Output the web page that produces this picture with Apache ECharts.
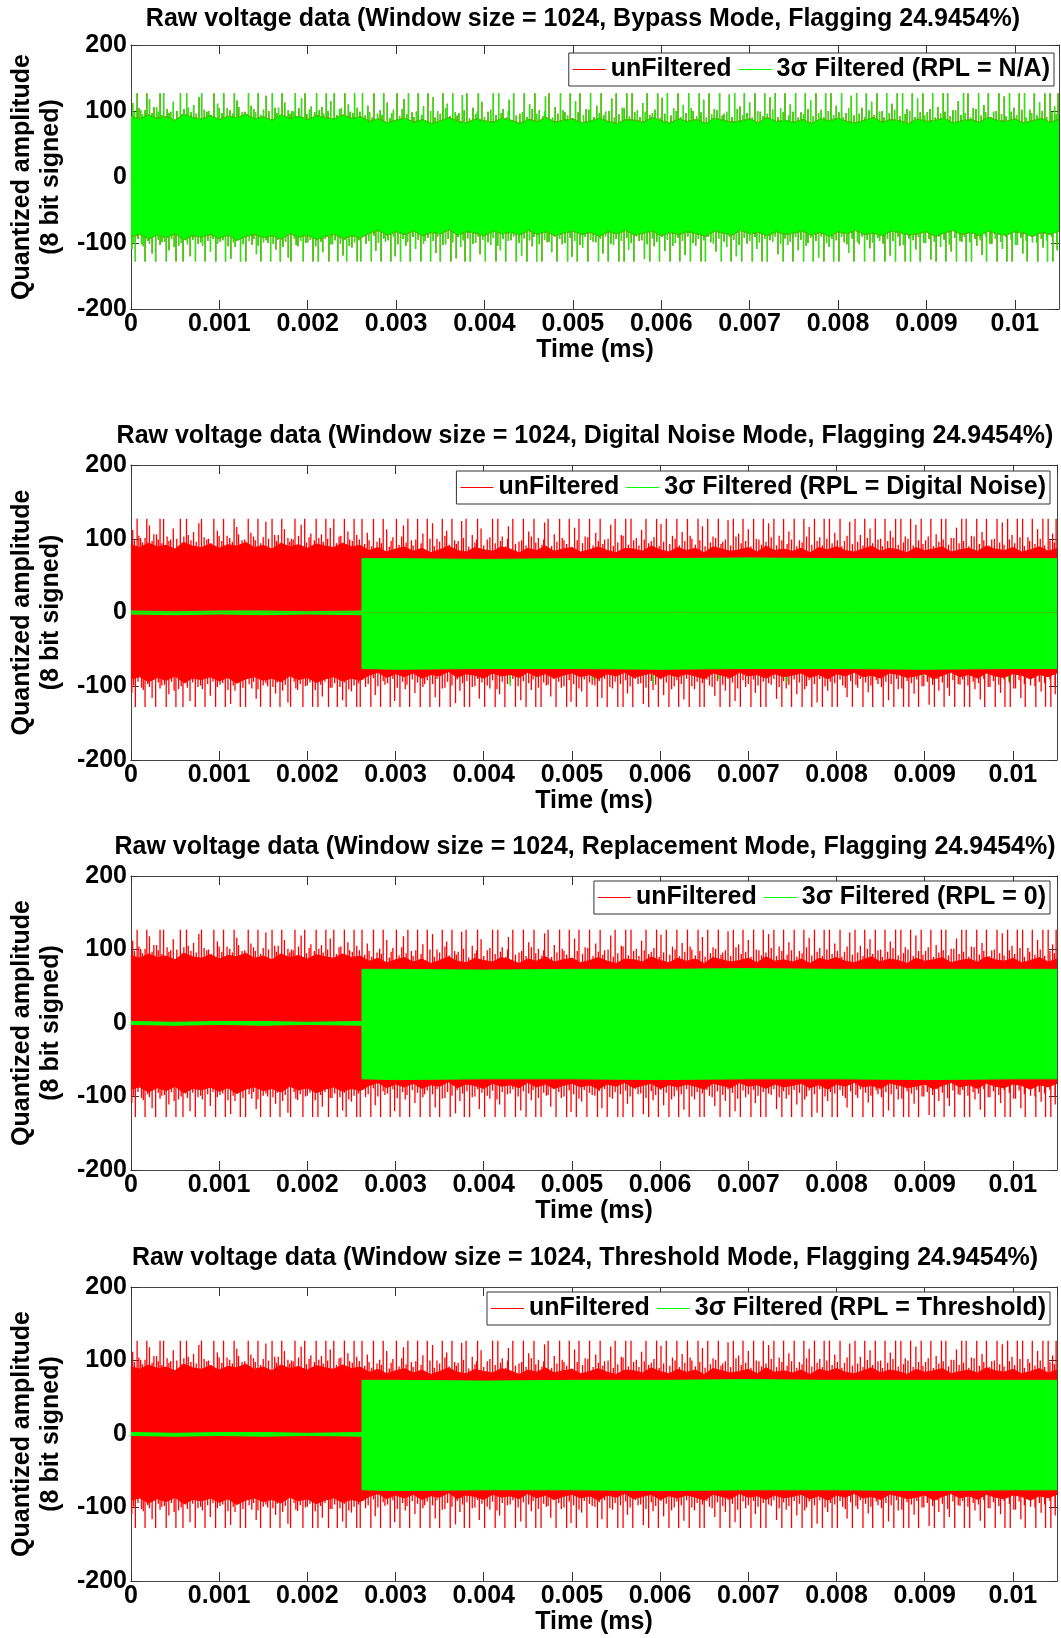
<!DOCTYPE html>
<html>
<head>
<meta charset="utf-8">
<title>Raw voltage data</title>
<script src="https://cdn.jsdelivr.net/npm/echarts@6/dist/echarts.min.js"></script>
<style>
html, body { margin: 0; padding: 0; background: #fff; }
#chart { width: 1061px; height: 1638px; }
</style>
</head>
<body>
<div id="chart"></div>
<script>
// time base: core envelope sampled every coreStep ms, spike positions in units of spikeUnit ms
var coreStep = 0.0001;
var spikeUnit = 0.00001;
var timeMax = 0.0105;
var yTicks = [-200, -100, 0, 100, 200];

// raw (unfiltered) signal: solid core envelope
var rawCoreTop = [
  92, 88, 94, 89, 91, 86, 95, 90, 88, 93,
  87, 92, 90, 95, 88, 91, 86, 94, 89, 92,
  87, 93, 90, 88, 94, 89, 91,
  84, 88, 82, 86, 89, 83, 87, 81, 85, 90,
  84, 82, 88, 85, 83, 89, 86, 81, 87, 84,
  90, 83, 86, 88, 82, 85, 89, 84, 81, 87,
  86, 83, 90, 85, 82, 88, 84, 87, 81, 89,
  86, 83, 85, 88, 82, 90, 84, 86, 83, 87,
  81, 88, 85, 89, 84, 82, 86, 90, 83, 87,
  85, 81, 88, 84, 86, 89, 82, 85, 87, 83,
  90, 86, 84, 88, 82, 85, 89, 83, 87
];
var rawCoreBot = [
  -90, -87, -94, -88, -92, -86, -95, -89, -91, -87,
  -93, -88, -96, -90, -87, -92, -89, -94, -86, -91,
  -88, -95, -90, -87, -93, -89, -92,
  -85, -81, -88, -83, -87, -82, -89, -84, -86, -80,
  -88, -83, -85, -89, -82, -86, -84, -88, -81, -87,
  -83, -89, -85, -82, -87, -84, -90, -83, -86, -81,
  -88, -85, -82, -89, -84, -87, -83, -86, -90, -82,
  -85, -88, -81, -86, -84, -89, -83, -87, -85, -82,
  -88, -84, -90, -83, -86, -81, -87, -85, -89, -82,
  -84, -88, -86, -83, -90, -85, -81, -87, -84, -89,
  -82, -86, -88, -83, -85, -90, -84, -87, -82
];
// raw signal: tall spikes above / below the core [position, peak]
var rawSpikeUp = [
  [2,112],[7,127],[11,101],[18,127],[21,118],[29,106],[33,127],[37,127],[45,99],[48,114],
  [56,127],[60,103],[63,127],[71,109],[77,121],[80,127],[88,100],[94,127],[98,111],[105,127],
  [109,104],[117,127],[120,116],[126,98],[133,127],[136,108],[144,127],[150,102],[153,123],[160,127],
  [167,105],[171,127],[174,113],[182,100],[186,127],[193,119],[197,127],[204,107],[210,127],[213,101],
  [221,127],[226,115],[230,127],[238,104],[242,127],[246,110],[253,127],[259,99],[262,127],
  [268,108],[275,127],[279,96],[286,127],[290,113],[297,102],[301,127],[309,118],[314,127],[318,98],
  [325,127],[331,107],[336,127],[342,121],[347,100],[353,127],[358,111],[364,127],[371,97],[375,124],
  [380,127],[387,105],[393,127],[397,114],[404,99],[410,127],[416,127],[421,103],[428,117],[433,127],
  [440,96],[445,127],[451,110],[457,127],[462,101],[469,122],[473,127],[480,106],[486,127],[491,98],
  [497,127],[503,115],[508,127],[515,103],[520,127],[527,108],[532,127],[537,99],[544,119],[549,127],
  [556,105],[561,127],[567,127],[573,101],[579,112],[584,127],[590,97],[596,127],[601,120],[607,127],
  [614,104],[619,127],[625,109],[631,127],[636,100],[643,127],[648,117],[654,127],[660,103],[666,127],
  [671,96],[677,125],[683,127],[689,107],[694,127],[700,113],[706,127],[712,99],[717,127],[723,121],
  [729,127],[735,104],[740,127],[746,110],[752,127],[758,98],[763,127],[769,116],[775,127],[781,102],
  [786,127],[792,127],[798,108],[804,127],[809,97],[815,123],[821,127],[827,105],[832,127],[838,114],
  [844,127],[850,100],[855,127],[861,111],[867,127],[873,127],[878,103],[884,127],[890,119],[896,127],
  [901,98],[907,127],[913,106],[919,127],[924,127],[930,101],[936,115],[942,127],[947,127],[953,104],
  [959,127],[965,109],[970,127],[976,99],[982,127],[988,122],[994,127],[999,105],[1005,127],[1011,127],
  [1017,102],[1022,127],[1028,113],[1034,127],[1040,127],[1045,107],[1049,127]
];
var rawSpikeDn = [
  [1,-109],[5,-128],[12,-102],[16,-128],[24,-116],[28,-128],[35,-99],[40,-128],[43,-111],[51,-128],
  [54,-104],[59,-128],[67,-120],[73,-128],[76,-101],[84,-128],[90,-113],[96,-128],[101,-98],[107,-128],
  [113,-124],[118,-106],[124,-128],[130,-128],[137,-103],[142,-117],[147,-128],[155,-100],[158,-128],[164,-110],
  [169,-128],[178,-122],[181,-128],[189,-105],[195,-128],[200,-99],[206,-128],[212,-128],[217,-114],[224,-128],
  [228,-102],[234,-128],[240,-119],[244,-128],[250,-107],[256,-128],[260,-128],
  [266,-101],[272,-128],[277,-112],[283,-128],[288,-98],[294,-128],[299,-120],[305,-128],[311,-104],[316,-128],
  [322,-109],[328,-128],[333,-97],[339,-128],[345,-115],[350,-128],[356,-102],[362,-128],[368,-123],[373,-106],
  [378,-128],[384,-128],[390,-100],[395,-117],[401,-128],[407,-103],[413,-128],[418,-111],[424,-128],[430,-96],
  [436,-128],[442,-119],[448,-128],[454,-105],[459,-128],[465,-128],[471,-99],[476,-114],[482,-128],[488,-102],
  [494,-128],[499,-121],[505,-128],[511,-107],[517,-128],[523,-98],[529,-128],[534,-116],[540,-128],[546,-103],
  [552,-128],[558,-128],[563,-110],[569,-128],[575,-97],[581,-124],[587,-128],[592,-105],[598,-128],[604,-112],
  [610,-128],[616,-100],[621,-128],[627,-118],[633,-128],[639,-104],[645,-128],[650,-128],[656,-99],[662,-113],
  [668,-128],[674,-106],[679,-128],[685,-120],[691,-128],[697,-101],[703,-128],[708,-109],[714,-128],[720,-128],
  [726,-98],[732,-117],[738,-128],[743,-103],[749,-128],[755,-111],[761,-128],[766,-100],[772,-128],[778,-122],
  [784,-128],[790,-106],[795,-128],[801,-128],[807,-99],[812,-115],[818,-128],[824,-102],[830,-128],[836,-108],
  [841,-128],[847,-97],[853,-128],[859,-119],[865,-128],[870,-104],[876,-128],[882,-128],[888,-110],[893,-128],
  [899,-100],[905,-125],[911,-128],[916,-106],[922,-128],[928,-113],[934,-128],[940,-98],[945,-128],[951,-128],
  [957,-104],[963,-118],[968,-128],[974,-101],[980,-128],[986,-109],[991,-128],[997,-128],[1003,-103],[1009,-116],
  [1014,-128],[1020,-99],[1026,-128],[1032,-107],[1037,-128],[1043,-128],[1048,-111]
];
// raw signal: short dense spikes just outside the core [position, peak]
var rawFuzzUp = [
  [4,98],[9,104],[13,95],[16,101],[24,97],[26,106],[31,99],[35,94],[41,103],[43,97],
  [52,100],[58,95],[65,105],[68,98],[74,96],[83,102],[86,99],[91,94],[100,104],[103,97],
  [112,101],[115,96],[122,106],[129,99],[131,95],[139,103],[141,98],[147,94],[156,100],[163,105],
  [165,97],[178,101],[180,96],[184,99],[190,104],[199,95],[202,102],[208,98],[216,106],[218,96],
  [223,100],[233,94],[236,103],[248,99],[251,97],[256,105],
  [265,93],[270,98],[273,90],[282,101],[284,94],[293,89],[295,97],[304,92],[307,103],[312,95],
  [320,91],[323,99],[329,94],[339,100],[344,90],[350,96],[356,104],[361,92],[367,98],[369,93],
  [377,101],[383,89],[390,95],[392,99],[400,91],[407,102],[413,94],[419,97],[425,90],[427,100],
  [436,93],[443,98],[448,91],[454,103],[459,95],[466,92],[468,99],[477,90],[483,96],[489,101],
  [494,93],[500,89],[506,98],[512,94],[518,102],[524,91],[530,97],[535,93],[541,100],[547,90],
  [552,95],[558,104],[564,92],[570,98],[576,91],[582,99],[587,94],[593,102],[599,90],[604,96],
  [611,93],[617,100],[622,91],[628,97],[634,104],[640,92],[645,98],[651,90],[657,95],[663,101],
  [669,93],[674,99],[680,91],[686,103],[692,94],[697,97],[703,90],[709,100],[715,92],[720,96],
  [726,102],[732,91],[738,98],[744,93],[749,99],[755,90],[761,95],[766,103],[772,92],[778,97],
  [784,91],[789,100],[795,94],[801,98],[806,90],[812,104],[818,93],[824,96],[830,91],[835,101],
  [841,94],[847,99],[852,90],[858,97],[864,102],[870,92],[876,95],[881,100],[887,91],[893,98],
  [898,93],[904,103],[910,90],[916,96],[921,99],[927,92],[933,101],[939,94],[944,97],[950,90],
  [956,103],[962,93],[967,98],[973,91],[979,100],[985,95],[990,92],[996,99],[1002,94],[1008,102],
  [1013,90],[1019,97],[1025,93],[1031,100],[1036,91],[1042,98],[1047,95]
];
var rawFuzzDn = [
  [3,-99],[8,-94],[14,-105],[19,-97],[21,-101],[31,-95],[33,-103],[38,-98],[46,-94],[49,-106],
  [57,-100],[62,-96],[64,-102],[70,-95],[79,-99],[81,-104],[87,-97],[93,-94],[98,-101],[104,-96],
  [110,-105],[116,-99],[121,-95],[127,-102],[134,-97],[139,-94],[144,-104],[150,-99],[153,-96],[161,-101],
  [166,-95],[172,-106],[175,-98],[185,-94],[187,-103],[192,-97],[198,-100],[203,-95],[209,-105],[215,-98],
  [220,-94],[226,-102],[231,-96],[237,-101],[242,-95],[247,-104],[253,-99],[258,-96],
  [263,-91],[269,-97],[275,-89],[280,-100],[286,-93],[291,-96],[297,-90],[302,-102],[308,-94],[313,-98],
  [319,-91],[325,-95],[331,-101],[336,-92],[342,-97],[347,-90],[353,-103],[359,-94],[364,-99],[370,-91],
  [376,-96],[381,-93],[387,-101],[393,-90],[398,-95],[404,-99],[410,-92],[415,-104],[421,-94],[427,-97],
  [433,-90],[439,-100],[445,-93],[451,-96],[456,-91],[462,-102],[468,-95],[473,-98],[479,-90],[485,-94],
  [491,-100],[497,-92],[502,-97],[508,-103],[514,-91],[520,-95],[526,-99],[531,-93],[537,-90],[543,-101],
  [549,-94],[555,-97],[561,-92],[566,-100],[572,-90],[578,-96],[584,-102],[590,-93],[595,-98],[601,-91],
  [607,-95],[613,-104],[619,-92],[624,-97],[630,-90],[636,-100],[642,-94],[648,-96],[653,-91],[659,-101],
  [665,-93],[671,-98],[677,-90],[682,-95],[688,-103],[694,-92],[700,-97],[706,-91],[711,-99],[717,-94],
  [723,-96],[729,-90],[735,-101],[740,-93],[746,-98],[752,-91],[758,-95],[764,-104],[769,-92],[775,-97],
  [781,-90],[787,-100],[793,-94],[798,-96],[804,-91],[810,-102],[816,-93],[822,-98],[827,-90],[833,-95],
  [839,-99],[845,-92],[851,-101],[856,-94],[862,-97],[868,-90],[874,-103],[880,-93],[885,-96],[891,-91],
  [897,-100],[903,-94],[909,-98],[914,-90],[920,-95],[926,-102],[932,-92],[938,-97],[943,-91],[949,-99],
  [955,-94],[961,-96],[967,-90],[972,-101],[978,-93],[984,-98],[990,-91],[996,-95],[1001,-103],[1007,-92],
  [1013,-97],[1019,-90],[1025,-100],[1030,-94],[1036,-96],[1042,-91],[1048,-99]
];

// filtered signal (modes with replacement): ~0 in the flagged part, clipped band afterwards
var zeroTime = [0, 0.0005, 0.001, 0.0015, 0.002, 0.00262];
var zeroTop = [2, 1, 2, 2, 1, 2];
var zeroBot = [-2, -3, -2, -3, -2, -3];
var clipTime = [0.00262, 0.003, 0.004, 0.005, 0.006, 0.007, 0.008, 0.009, 0.01, 0.0105];
var clipTop = [73, 73, 72, 73, 73, 74, 73, 73, 73, 73];
var clipBot = [-76, -77, -76, -76, -77, -76, -76, -77, -76, -76];
// digital noise mode: a few filtered samples below the clipped band
var noiseSpikeDn = [[430,-100],[524,-92],[571,-88],[592,-97],[666,-90],[744,-95],[898,-86],[995,-93]];

var modes = ['Bypass Mode', 'Digital Noise Mode', 'Replacement Mode', 'Threshold Mode'];
var rplNames = ['N/A', 'Digital Noise', '0', 'Threshold'];
var flagging = '24.9454%';

var panels = [
  {left: 126, right: 2, top: 45, height: 264, titleX: 583, titleY: 19, legRight: 7, legTop: 53},
  {left: 123, right: 4, top: 465, height: 295, titleX: 585, titleY: 436, legRight: 11, legTop: 471},
  {left: 123, right: 4, top: 876, height: 294, titleX: 585, titleY: 847, legRight: 11, legTop: 881},
  {left: 123, right: 4, top: 1287, height: 294, titleX: 585, titleY: 1258, legRight: 11, legTop: 1292}
];

var RED = '#ff0000', GREEN = '#00ff00';
var FONT = '"Liberation Sans", Arial, sans-serif';

function pairs(times, vals) {
  return vals.map(function (v, i) { return [times[i], v]; });
}
function coreData(vals) {
  return vals.map(function (v, i) { return [i * coreStep, v]; });
}
function spikeData(list) {
  return list.map(function (s) { return [s[0] * spikeUnit, s[1]]; });
}
function renderSpike(params, api) {
  var a = api.coord([api.value(0), 0]);
  var b = api.coord([api.value(0), api.value(1)]);
  return {
    type: 'line',
    shape: {x1: a[0], y1: a[1], x2: b[0], y2: b[1]},
    style: {stroke: api.visual('color'), lineWidth: 1.3}
  };
}
function spikeSeries(name, g, color, list) {
  return {
    name: name, type: 'custom', xAxisIndex: 2 * g, yAxisIndex: 2 * g,
    renderItem: renderSpike, encode: {x: 0, y: 1},
    itemStyle: {color: color}, data: spikeData(list), silent: true
  };
}
function bandSeries(name, g, color, data) {
  return {
    name: name, type: 'line', xAxisIndex: 2 * g, yAxisIndex: 2 * g,
    data: data, symbol: 'none', silent: true,
    itemStyle: {color: color},
    lineStyle: {color: color, width: 1},
    areaStyle: {color: color, opacity: 1}
  };
}
function rawSeries(name, g, color) {
  return [
    spikeSeries(name, g, color, rawSpikeUp),
    spikeSeries(name, g, color, rawSpikeDn),
    spikeSeries(name, g, color, rawFuzzUp),
    spikeSeries(name, g, color, rawFuzzDn),
    bandSeries(name, g, color, coreData(rawCoreTop)),
    bandSeries(name, g, color, coreData(rawCoreBot))
  ];
}

var option = {
  animation: false,
  backgroundColor: '#fff',
  textStyle: {fontFamily: FONT},
  grid: [], xAxis: [], yAxis: [], legend: [], series: [], graphic: []
};

panels.forEach(function (p, g) {
  var filtName = '3\u03c3 Filtered (RPL = ' + rplNames[g] + ')';
  option.grid.push({left: p.left, right: p.right, top: p.top, height: p.height, containLabel: false});

  var tickStyle = {show: true, inside: true, length: 9, lineStyle: {color: '#333', width: 1}};
  var lineStyle = {show: true, onZero: false, lineStyle: {color: '#444', width: 1}};
  option.xAxis.push({
    gridIndex: g, type: 'value', min: 0, max: timeMax, interval: 0.001,
    position: 'bottom', axisLine: lineStyle, axisTick: tickStyle, splitLine: {show: false},
    axisLabel: {
      color: '#000', fontSize: 25, fontWeight: 'bold', fontFamily: FONT, margin: 3,
      showMaxLabel: false,
      formatter: function (v) { return v === 0 ? '0' : String(parseFloat(v.toFixed(4))); }
    },
    name: 'Time (ms)', nameLocation: 'middle', nameGap: 28,
    nameTextStyle: {color: '#000', fontSize: 25, fontWeight: 'bold', fontFamily: FONT}
  });
  option.xAxis.push({
    gridIndex: g, type: 'value', min: 0, max: timeMax, interval: 0.001,
    position: 'top', axisLine: lineStyle, axisTick: tickStyle,
    axisLabel: {show: false}, splitLine: {show: false}
  });
  option.yAxis.push({
    gridIndex: g, type: 'value', min: yTicks[0], max: yTicks[yTicks.length - 1], interval: 100,
    position: 'left', axisLine: lineStyle, axisTick: {show: true, inside: true, length: 8, lineStyle: {color: '#333'}},
    splitLine: {show: false},
    axisLabel: {color: '#000', fontSize: 25, fontWeight: 'bold', fontFamily: FONT, margin: 4},
    name: 'Quantized amplitude\n(8 bit signed)', nameLocation: 'middle', nameRotate: 90, nameGap: 56,
    nameTextStyle: {color: '#000', fontSize: 25, fontWeight: 'bold', fontFamily: FONT, lineHeight: 29}
  });
  option.yAxis.push({
    gridIndex: g, type: 'value', min: yTicks[0], max: yTicks[yTicks.length - 1], interval: 100,
    position: 'right', axisLine: lineStyle, axisTick: {show: true, inside: true, length: 8, lineStyle: {color: '#333'}},
    axisLabel: {show: false}, splitLine: {show: false}
  });

  // unfiltered (red) first, filtered (green) drawn on top
  option.series = option.series.concat(rawSeries('unFiltered', g, RED));

  if (g === 0) {
    // bypass: filtered output equals the raw signal
    option.series = option.series.concat(rawSeries(filtName, g, GREEN));
  } else {
    if (g === 1) option.series.push(spikeSeries(filtName, g, GREEN, noiseSpikeDn));
    option.series.push(bandSeries(filtName, g, GREEN, pairs(zeroTime, zeroTop).concat(pairs(clipTime, clipTop))));
    option.series.push(bandSeries(filtName, g, GREEN, pairs(zeroTime, zeroBot).concat(pairs(clipTime, clipBot))));
  }

  option.legend.push({
    data: [{name: 'unFiltered', itemStyle: {color: RED}}, {name: filtName, itemStyle: {color: GREEN}}],
    right: p.legRight, top: p.legTop, orient: 'horizontal',
    icon: 'rect', itemWidth: 33, itemHeight: 1, itemGap: 7,
    selectedMode: false,
    textStyle: {color: '#000', fontSize: 25, fontWeight: 'bold', fontFamily: FONT},
    borderColor: '#333', borderWidth: 1, borderRadius: 0,
    padding: [4, 4, 4, 4], backgroundColor: '#fff'
  });

  option.graphic.push({
    type: 'text', x: p.titleX, y: p.titleY, z: 100,
    style: {
      text: 'Raw voltage data (Window size = 1024, ' + modes[g] + ', Flagging ' + flagging + ')',
      fill: '#000', font: 'bold 25px ' + FONT,
      align: 'center', verticalAlign: 'middle', textAlign: 'center', textVerticalAlign: 'middle'
    }
  });
});

var chart = echarts.init(document.getElementById('chart'), null, {renderer: 'canvas'});
chart.setOption(option);
</script>
</body>
</html>
